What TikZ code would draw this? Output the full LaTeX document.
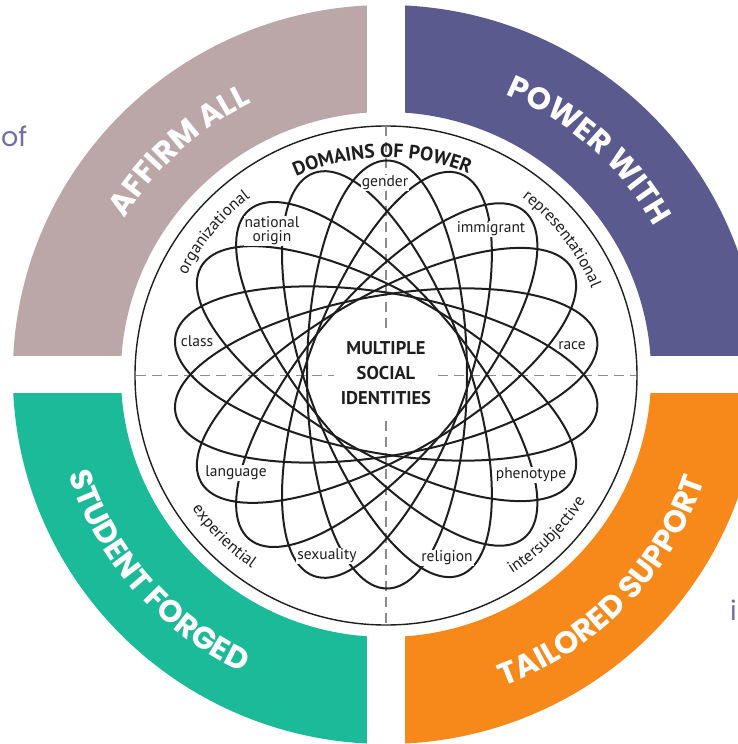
\documentclass[tikz,border=0pt]{standalone}
\usepackage{fontspec}
\newfontfamily\ringfont{Poppins}
\newfontfamily\diagfont{PT Sans}
\usetikzlibrary{decorations.text}

\definecolor{affirm}{RGB}{188,167,168}
\definecolor{power}{RGB}{91,90,142}
\definecolor{student}{RGB}{27,187,154}
\definecolor{tailored}{RGB}{247,137,27}
\definecolor{sidetext}{RGB}{112,110,162}
\definecolor{dashgray}{RGB}{140,140,140}
\definecolor{ink}{RGB}{30,30,30}

\begin{document}
\begin{tikzpicture}[x=1pt,y=1pt,
  ringtext/.style={decorate,decoration={text along path,text align=center,
      text color=white,text={|\ringfont\bfseries\fontsize{31}{31}\selectfont|#1}}},
  domaintext/.style={decorate,decoration={text along path,text align=center,
      text color=ink,text={|\diagfont\fontsize{16.5}{16.5}\selectfont|#1}}},
  titletext/.style={decorate,decoration={text along path,text align=center,
      text color=ink,text={|\diagfont\bfseries\fontsize{19.5}{19.5}\selectfont|#1}}},
  orbit/.style={draw=ink,line width=2pt},
  axisdash/.style={draw=dashgray,line width=1.6pt,dash pattern=on 10pt off 6pt},
  idlabel/.style={font=\diagfont\fontsize{15.5}{14}\selectfont,fill=white,
      inner sep=1.2pt,text=ink,align=center},
  sideword/.style={anchor=base west,inner sep=0pt,text=sidetext,
      font=\ringfont\fontsize{27}{27}\selectfont}]

\useasboundingbox (-386,-369.5) rectangle (352,374.5);

% four coloured quarters of the outer ring
\def\Rout{369.5}
\def\Rin{262.5}
\def\gap{19}
\begin{scope}[xscale=1.01]
  \begin{scope}
    \clip (-420,\gap) rectangle (-\gap,420);
    \fill[affirm,even odd rule] (0,0) circle[radius=\Rout] (0,0) circle[radius=\Rin];
  \end{scope}
  \begin{scope}
    \clip (\gap,\gap) rectangle (420,420);
    \fill[power,even odd rule] (0,0) circle[radius=\Rout] (0,0) circle[radius=\Rin];
  \end{scope}
  \begin{scope}
    \clip (-420,-\gap) rectangle (-\gap,-420);
    \fill[student,even odd rule] (0,0) circle[radius=\Rout] (0,0) circle[radius=\Rin];
  \end{scope}
  \begin{scope}
    \clip (\gap,-\gap) rectangle (420,-420);
    \fill[tailored,even odd rule] (0,0) circle[radius=\Rout] (0,0) circle[radius=\Rin];
  \end{scope}

  % ring captions
  \path[ringtext={AFFIRM ALL}] (160:302) arc[start angle=160,end angle=105,radius=302];
  \path[ringtext={POWER WITH}] (76:304) arc[start angle=76,end angle=20,radius=304];
  \path[ringtext={STUDENT FORGED}] (186:330) arc[start angle=186,end angle=256,radius=330];
  \path[ringtext={TAILORED SUPPORT}] (281:333) arc[start angle=281,end angle=351,radius=333];
\end{scope}

% partial words at the page edges
\node[sideword] (ofword) at (-385,227.5) {of};
\node[sideword] (iword) at (344,-245.5) {i};

% inner diagram: frame circle
\draw[line width=1.4pt,draw=ink] (0,-1) ellipse[x radius=251,y radius=249.5];

% dashed axes
\draw[axisdash] (-250,-1) -- (-52,-1);
\draw[axisdash] (52,-1) -- (250,-1);
\draw[axisdash] (0,248) -- (0,42);
\draw[axisdash] (0,-248) -- (0,-43);

% nine orbits of the identity rosette
\foreach \a in {10,30,...,170}
  \draw[orbit,rotate=\a] (0,-1) ellipse[x radius=214,y radius=80];

% domain captions along the frame
\path[titletext={DOMAINS OF POWER}] (124:217) arc[start angle=124,end angle=58,radius=217];
\path[domaintext={organizational}] (165:223) arc[start angle=165,end angle=116,radius=223];
\path[domaintext={representational}] (62:223) arc[start angle=62,end angle=13,radius=223];
\path[domaintext={experiential}] (200:236) arc[start angle=200,end angle=250,radius=236];
\path[domaintext={intersubjective}] (290:236) arc[start angle=290,end angle=340,radius=236];

% identity labels
\node[idlabel] (gender) at (-1,191.5) {gender};
\node[idlabel] (natorigin) at (-114,143.5) {national\\origin};
\node[idlabel] (immigrant) at (105,145.5) {immigrant};
\node[idlabel] (class) at (-189,33.5) {class};
\node[idlabel] (race) at (186,28.5) {race};
\node[idlabel] (language) at (-150,-98.5) {language};
\node[idlabel] (phenotype) at (145,-100.5) {phenotype};
\node[idlabel] (sexuality) at (-59,-181.5) {sexuality};
\node[idlabel] (religion) at (61,-183.5) {religion};

% centre caption
\node[font=\diagfont\bfseries\fontsize{18.5}{25}\selectfont,align=center,text=ink]
  (core) at (0,1) {MULTIPLE\\SOCIAL\\IDENTITIES};
\end{tikzpicture}
\end{document}
